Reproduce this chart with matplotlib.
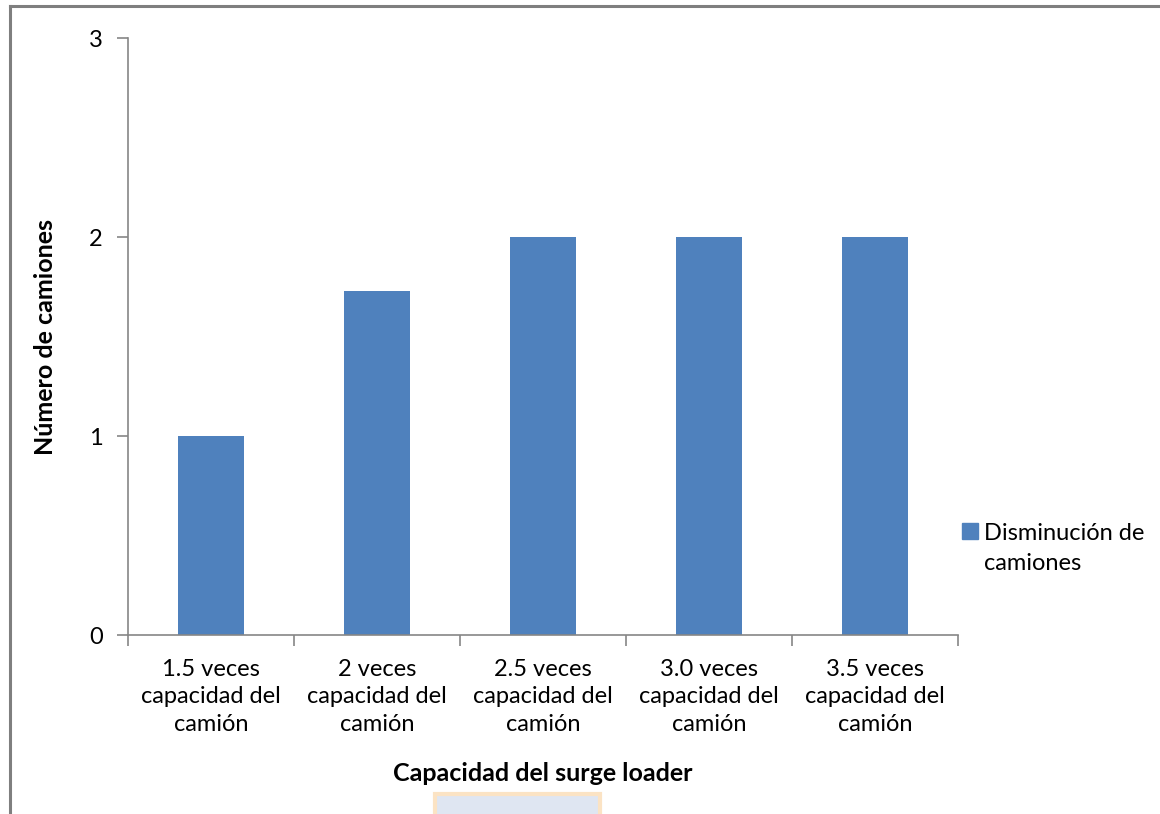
import matplotlib.pyplot as plt
from matplotlib.patches import Rectangle
from matplotlib.lines import Line2D

plt.rcParams['font.family'] = ['Lato', 'DejaVu Sans']

categorias = [
    "1.5 veces\ncapacidad del\ncamión",
    "2 veces\ncapacidad del\ncamión",
    "2.5 veces\ncapacidad del\ncamión",
    "3.0 veces\ncapacidad del\ncamión",
    "3.5 veces\ncapacidad del\ncamión",
]
disminucion = [1.0, 1.73, 2.0, 2.0, 2.0]
y_ticks = [0, 1, 2, 3]

azul = "#4f81bd"
gris = "#868686"

fig = plt.figure(figsize=(11.6, 8.14), dpi=100)
ax = fig.add_axes([0.1103, 0.2199, 0.7156, 0.7334])

x = range(len(categorias))
ax.bar(x, disminucion, width=0.4, color=azul, zorder=2)

ax.set_xlim(-0.5, len(categorias) - 0.5)
ax.set_ylim(0, 3)
ax.set_yticks(y_ticks)
ax.set_yticklabels([str(v) for v in y_ticks], fontsize=17)

# etiquetas en el centro de cada categoría, marcas en los límites
ax.set_xticks(list(x))
ax.set_xticklabels(categorias, fontsize=17, linespacing=1.38)
ax.set_xticks([i - 0.5 for i in range(len(categorias) + 1)], minor=True)
ax.tick_params(axis="x", which="major", length=0, pad=17)
ax.tick_params(axis="x", which="minor", length=8, color=gris, width=1.2, direction="out")
ax.tick_params(axis="y", length=8, color=gris, width=1.2, direction="out", pad=10)

for lado in ["top", "right"]:
    ax.spines[lado].set_visible(False)
for lado in ["left", "bottom"]:
    ax.spines[lado].set_color(gris)
    ax.spines[lado].set_linewidth(1.2)

ax.set_ylabel("Número de camiones", fontsize=18, fontweight="bold")
ax.yaxis.set_label_coords(-0.086, 0.5)
ax.set_xlabel("Capacidad del surge loader", fontsize=18, fontweight="bold", va="top")
ax.xaxis.set_label_coords(0.5, -0.212)

# leyenda: el cuadro alineado con la primera línea del texto
handle = Line2D([], [], marker="s", linestyle="none", markersize=11,
                markerfacecolor=azul, markeredgecolor=azul)
leg = fig.legend([handle], ["Disminución de"], loc="center left",
                 bbox_to_anchor=(0.816, 0.345), frameon=False, fontsize=17,
                 handletextpad=0.1, borderpad=0, handlelength=1.0)
fig.canvas.draw()
bb = leg.get_texts()[0].get_window_extent()
fig.text(bb.x0 / fig.bbox.width, (bb.y0 - 30) / fig.bbox.height, "camiones",
         fontsize=17, ha="left", va="bottom")

# borde del área del gráfico
fig.add_artist(Line2D([0.0086, 0.0086], [0.0, 0.9926], transform=fig.transFigure,
                      color="#7f7f7f", linewidth=2.2))
fig.add_artist(Line2D([0.0086, 1.0], [0.9926, 0.9926], transform=fig.transFigure,
                      color="#7f7f7f", linewidth=2.2))

# recuadro tenue al pie
fig.add_artist(Rectangle((0.375, -0.01), 0.142, 0.034, transform=fig.transFigure,
                         facecolor="#dfe6f2", edgecolor="#fbe3c4", linewidth=3))

fig.savefig("out.png", dpi=100)
